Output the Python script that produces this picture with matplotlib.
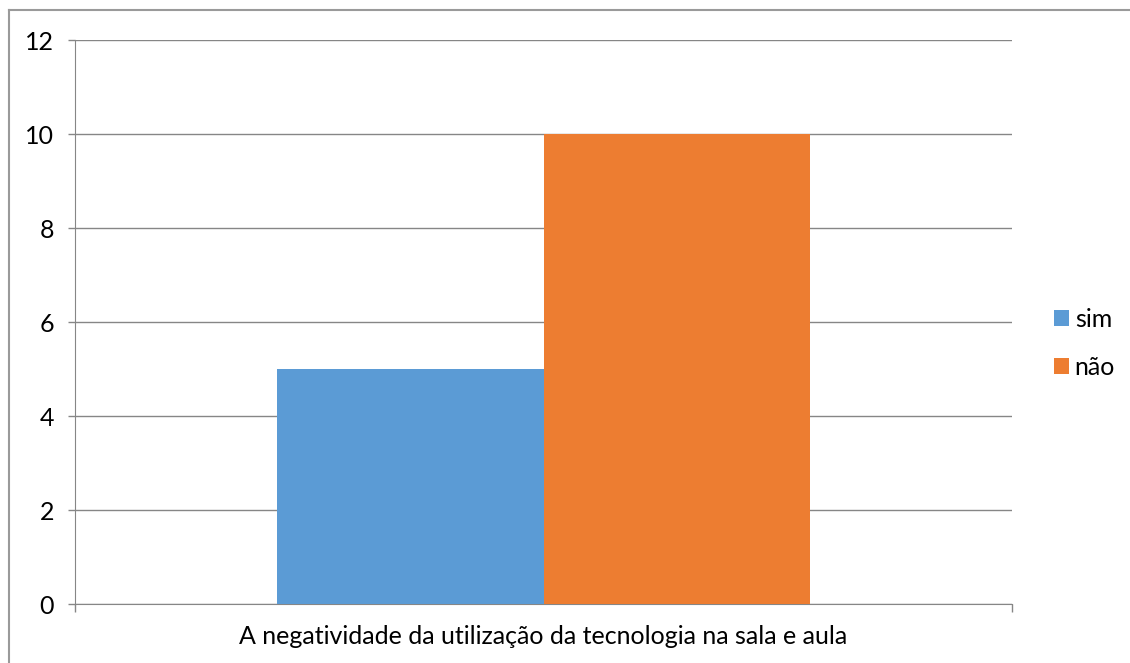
import matplotlib
matplotlib.use("Agg")
import matplotlib.pyplot as plt
from matplotlib.patches import Patch
from matplotlib.lines import Line2D

category = "A negatividade da utilização da tecnologia na sala e aula"
series_names = ["sim", "não"]
series_values = [5, 10]
colors = ["#5B9BD5", "#ED7D31"]
yticks = [0, 2, 4, 6, 8, 10, 12]

plt.rcParams['font.family'] = ['Lato', 'DejaVu Sans']

W, H = 1130, 663
fig = plt.figure(figsize=(W / 100, H / 100), dpi=100)
ax = fig.add_axes([75 / W, 1 - 604 / H, (1012 - 75) / W, (604 - 40) / H])

bw = 0.284
offsets = [-bw / 2, bw / 2]
for name, v, c, o in zip(series_names, series_values, colors, offsets):
    ax.bar(o, v, width=bw, color=c, label=name, zorder=3)

FS = 18
ax.set_xlim(-0.5, 0.5)
ax.set_ylim(0, 12)
ax.set_yticks(yticks)
ax.set_yticklabels([str(t) for t in yticks], fontsize=FS)
ax.yaxis.grid(True, color="#868686", linewidth=1, zorder=0)
ax.set_xticks([-0.5, 0.5])
ax.set_xticklabels([])
ax.tick_params(axis='x', length=6, color="#868686", width=1)
ax.tick_params(axis='y', length=5, color="#868686", width=1, pad=10)
for s in ["top", "right"]:
    ax.spines[s].set_visible(False)
for s in ["left", "bottom"]:
    ax.spines[s].set_color("#868686")
ax.text(0.5, -0.038, category, transform=ax.transAxes, ha="center", va="top", fontsize=FS)

handles = [Patch(facecolor=c, edgecolor="none") for c in colors]
fig.legend(handles, series_names, loc="center left", bbox_to_anchor=(1031 / W, 1 - 343 / H),
           frameon=False, fontsize=FS, handlelength=0.6, handleheight=0.6,
           handletextpad=0.25, labelspacing=1.0)

fig.add_artist(Line2D([8.5 / W, 8.5 / W], [0, 1 - 9.5 / H], color="#9a9a9a", lw=1.5,
                      transform=fig.transFigure))
fig.add_artist(Line2D([8.5 / W, 1], [1 - 9.5 / H, 1 - 9.5 / H], color="#9a9a9a", lw=1.5,
                      transform=fig.transFigure))

fig.savefig("out.png", dpi=100)
